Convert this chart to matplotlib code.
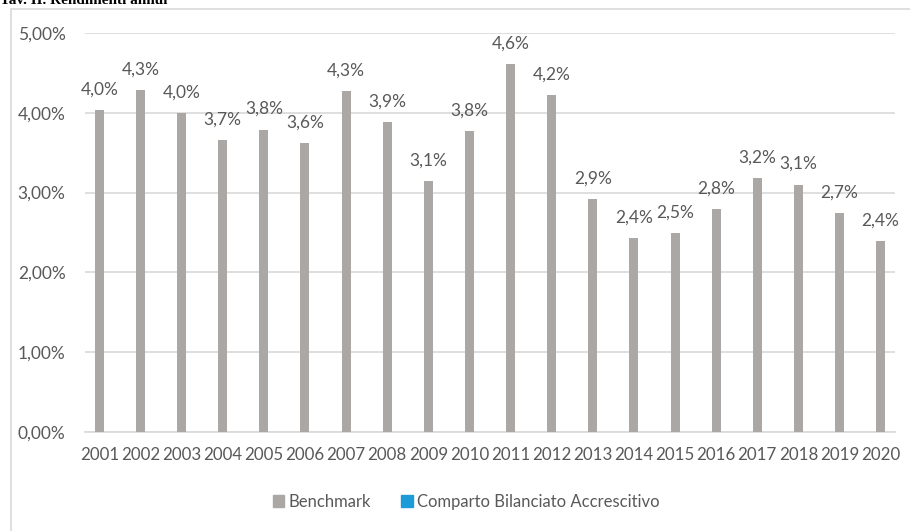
import matplotlib.pyplot as plt
from matplotlib.patches import Rectangle
from matplotlib.ticker import FuncFormatter

years = [str(y) for y in range(2001, 2021)]
benchmark = [4.03, 4.28, 4.00, 3.66, 3.79, 3.62, 4.27, 3.88, 3.15, 3.77,
             4.61, 4.22, 2.92, 2.43, 2.49, 2.79, 3.18, 3.10, 2.74, 2.39]
comparto = []  # series present in legend only

bar_color = '#ABA7A5'
blue = '#1B9BD7'
text_color = '#595959'

plt.rcParams['font.family'] = ['Lato', 'DejaVu Sans']

fig = plt.figure(figsize=(9.1, 5.31), dpi=100)
W, H = 910, 531

# outer chart frame (only left/top edges are inside the picture)
fig.patches.append(Rectangle((11 / W, -0.1), 1.2, 1 - 9 / H + 0.1,
                             transform=fig.transFigure, fill=False,
                             edgecolor='#D9D9D9', linewidth=1.2))

fig.text(0.0, 1 - 4 / H, 'Tav. II. Rendimenti annui', fontsize=11,
         fontweight='bold', family='Liberation Serif', va='baseline', ha='left')

ax = fig.add_axes([85 / W, (H - 432) / H, (895 - 85) / W, (432 - 33) / H])
x = range(len(years))
bars = ax.bar(x, benchmark, width=0.22, color=bar_color, zorder=3)

for xi, v in zip(x, benchmark):
    ax.annotate(f'{v:.1f}%'.replace('.', ','), (xi, v), xytext=(0, 9),
                textcoords='offset points', ha='center', va='bottom',
                fontsize=12.5, color=text_color)

ax.set_ylim(0, 5)
ax.set_xlim(-0.35, len(years) - 0.65)
ax.set_yticks([0, 1, 2, 3, 4, 5])
ax.yaxis.set_major_formatter(FuncFormatter(lambda v, p: f'{v:.2f}%'.replace('.', ',')))
ax.set_xticks(list(x))
ax.set_xticklabels(years)
ax.grid(axis='y', color='#D9D9D9', linewidth=1.2, zorder=0)
for s in ['top', 'right', 'left']:
    ax.spines[s].set_visible(False)
ax.spines['bottom'].set_color('#D9D9D9')
ax.spines['bottom'].set_linewidth(1.2)
ax.tick_params(axis='both', length=0, labelsize=12.5, colors=text_color)
ax.tick_params(axis='x', labelsize=12.2)
ax.tick_params(axis='y', pad=14)
ax.tick_params(axis='x', pad=11)

h1 = Rectangle((0, 0), 1, 1, color=bar_color)
h2 = Rectangle((0, 0), 1, 1, color=blue)
fig.legend([h1, h2], ['Benchmark', 'Comparto Bilanciato Accrescitivo'],
           loc='center', bbox_to_anchor=(466 / W, 1 - 502 / H), ncol=2,
           frameon=False, fontsize=12, labelcolor=text_color,
           handlelength=0.7, handleheight=0.7, handletextpad=0.25,
           columnspacing=1.8)

fig.savefig('out.png', dpi=100)
